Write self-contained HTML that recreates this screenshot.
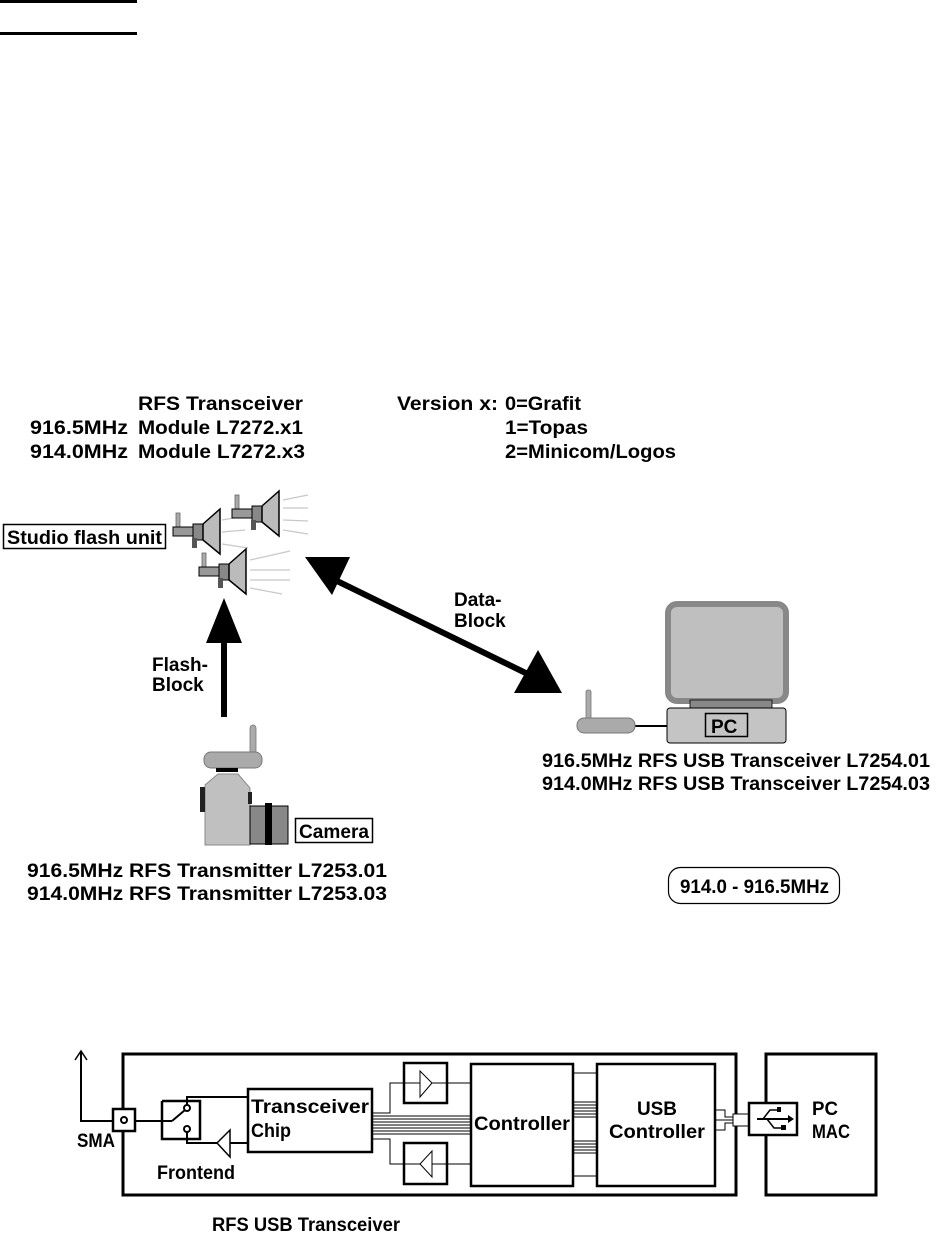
<!DOCTYPE html>
<html><head><meta charset="utf-8"><style>
html,body{margin:0;padding:0;background:#fff;}
svg{display:block;}
text{font-family:"Liberation Sans",sans-serif;font-weight:bold;font-size:19px;fill:#000;}
</style></head><body>
<svg width="950" height="1234" viewBox="0 0 950 1234" xmlns="http://www.w3.org/2000/svg">
<rect x="0" y="0" width="137" height="3" fill="#000"/>
<rect x="0" y="32" width="137" height="3" fill="#000"/>

<text x="138" y="410" textLength="165" lengthAdjust="spacingAndGlyphs">RFS Transceiver</text>
<text x="30" y="434" textLength="98" lengthAdjust="spacingAndGlyphs">916.5MHz</text>
<text x="138" y="434" textLength="165" lengthAdjust="spacingAndGlyphs">Module L7272.x1</text>
<text x="30" y="458" textLength="98" lengthAdjust="spacingAndGlyphs">914.0MHz</text>
<text x="138" y="458" textLength="167" lengthAdjust="spacingAndGlyphs">Module L7272.x3</text>
<text x="397" y="410" textLength="101" lengthAdjust="spacingAndGlyphs">Version x:</text>
<text x="505" y="410" textLength="76" lengthAdjust="spacingAndGlyphs">0=Grafit</text>
<text x="505" y="434" textLength="83" lengthAdjust="spacingAndGlyphs">1=Topas</text>
<text x="505" y="458" textLength="171" lengthAdjust="spacingAndGlyphs">2=Minicom/Logos</text>

<rect x="3.5" y="524.5" width="162" height="24" fill="#fff" stroke="#000" stroke-width="1.5"/>
<text x="7" y="544" textLength="155" lengthAdjust="spacingAndGlyphs">Studio flash unit</text>

<g stroke="#c8c8c8" stroke-width="1.2">
<line x1="283" y1="500" x2="308" y2="495"/><line x1="283" y1="508" x2="308" y2="508"/><line x1="283" y1="520" x2="308" y2="521"/><line x1="283" y1="530" x2="308" y2="534"/>
<line x1="222" y1="520" x2="245" y2="516"/><line x1="222" y1="532" x2="245" y2="530"/><line x1="222" y1="544" x2="248" y2="548"/>
<line x1="250" y1="560" x2="290" y2="551"/><line x1="250" y1="570" x2="290" y2="570"/><line x1="250" y1="580" x2="290" y2="580"/><line x1="250" y1="588" x2="282" y2="594"/>
</g>
<g id="fu">
<rect x="176" y="513" width="4" height="20" fill="#aaa" stroke="#666" stroke-width="0.8"/>
<rect x="173" y="527" width="25" height="9" fill="#999" stroke="#000" stroke-width="1"/>
<rect x="193" y="524" width="10" height="16" fill="#888" stroke="#000" stroke-width="1"/>
<rect x="192" y="538" width="5" height="10" fill="#555"/>
<polygon points="203,524 220,509 220,554 203,540" fill="#bbb" stroke="#000" stroke-width="1.5"/>
</g>
<use href="#fu" transform="translate(59,-18)"/>
<use href="#fu" transform="translate(26,40)"/>

<rect x="221" y="640" width="6" height="77" fill="#000"/>
<polygon points="224,598 206,643 242,643" fill="#000"/>
<text x="152" y="671">Flash-</text>
<text x="152" y="691">Block</text>

<line x1="335" y1="580" x2="540" y2="680" stroke="#000" stroke-width="6"/>
<polygon points="305,557 350,557 332,595" fill="#000"/>
<polygon points="538,650 514,693 562,693" fill="#000"/>
<text x="454" y="606">Data-</text>
<text x="454" y="627">Block</text>

<rect x="668" y="604" width="118" height="97" rx="9" fill="#bfbfbf" stroke="#888" stroke-width="6"/>
<rect x="690" y="700" width="82" height="9" fill="#888" stroke="#000" stroke-width="0.8"/>
<rect x="667" y="708" width="119" height="35" rx="3" fill="#c4c4c4" stroke="#000" stroke-width="1"/>
<rect x="705.5" y="713.5" width="42" height="23" fill="none" stroke="#000" stroke-width="1.5"/>
<text x="711" y="733">PC</text>
<line x1="630" y1="726" x2="667" y2="726" stroke="#000" stroke-width="2"/>
<rect x="586" y="690" width="5" height="32" rx="2" fill="#aaa" stroke="#777" stroke-width="0.8"/>
<rect x="577" y="718" width="58" height="15" rx="7" fill="#aaa" stroke="#777" stroke-width="1"/>
<text x="542" y="767" textLength="388" lengthAdjust="spacingAndGlyphs">916.5MHz RFS USB Transceiver L7254.01</text>
<text x="542" y="790" textLength="388" lengthAdjust="spacingAndGlyphs">914.0MHz RFS USB Transceiver L7254.03</text>

<rect x="250" y="725" width="6" height="30" rx="3" fill="#aaa" stroke="#777" stroke-width="0.8"/>
<rect x="204" y="752" width="58" height="16" rx="7" fill="#aaa" stroke="#777" stroke-width="1"/>
<rect x="216" y="768" width="22" height="4" fill="#000"/>
<path d="M205,785 L218,774 L238,774 L250,788 L250,845 L205,845 Z" fill="#c0c0c0" stroke="#888" stroke-width="1"/>
<rect x="200" y="787" width="5" height="25" fill="#222"/>
<rect x="248" y="792" width="4" height="12" fill="#222"/>
<rect x="250" y="806" width="38" height="38" fill="#888" stroke="#000" stroke-width="1"/>
<rect x="265" y="803" width="7" height="42" fill="#000"/>
<rect x="295.5" y="818.5" width="77" height="24" fill="#fff" stroke="#000" stroke-width="1.5"/>
<text x="299" y="838" textLength="70" lengthAdjust="spacingAndGlyphs">Camera</text>
<text x="27" y="877" textLength="360" lengthAdjust="spacingAndGlyphs">916.5MHz  RFS Transmitter L7253.01</text>
<text x="27" y="900" textLength="360" lengthAdjust="spacingAndGlyphs">914.0MHz  RFS Transmitter L7253.03</text>

<rect x="668.5" y="867.5" width="171" height="36" rx="12" fill="#fff" stroke="#000" stroke-width="1.2"/>
<text x="680" y="893" textLength="149" lengthAdjust="spacingAndGlyphs">914.0 - 916.5MHz</text>

<g fill="none" stroke="#000">
<rect x="123" y="1054" width="613" height="141" stroke-width="3"/>
<rect x="766" y="1054" width="110" height="141" stroke-width="3"/>
<polyline points="113,1121 81,1121 81,1052" stroke-width="2"/>
<polyline points="75,1060 81,1051 87,1060" stroke-width="1.5"/>
<rect x="113" y="1109" width="22" height="22" stroke-width="2.5" fill="#fff"/>
<circle cx="124" cy="1120" r="3" stroke-width="2"/>
<line x1="135" y1="1121" x2="172" y2="1121" stroke-width="2"/>
<polyline points="162,1101 200,1101 200,1139 162,1139 162,1101" stroke-width="2.5"/>
<line x1="172" y1="1121" x2="185" y2="1110" stroke-width="2"/>
<circle cx="187" cy="1108" r="3" stroke-width="2"/>
<circle cx="187" cy="1129" r="3" stroke-width="2"/>
<polyline points="187,1105 187,1097 248,1097" stroke-width="2"/>
<polyline points="187,1132 187,1143 217,1143" stroke-width="2"/>
<polygon points="217,1143 230,1130 230,1157" stroke-width="1.5" fill="#fff"/>
<line x1="230" y1="1143" x2="248" y2="1143" stroke-width="2"/>
<rect x="248" y="1089" width="124" height="63" stroke-width="2.5"/>
<polyline points="372,1113 390,1113 390,1083 471,1083" stroke-width="1"/>
<polyline points="372,1139 390,1139 390,1164 471,1164" stroke-width="1"/>
<rect x="404" y="1063" width="43" height="40" stroke-width="2.5" fill="#fff"/>
<rect x="404" y="1143" width="43" height="41" stroke-width="2.5" fill="#fff"/>
<polygon points="420,1071 420,1097 432,1083" stroke-width="1"/>
<polygon points="432,1151 432,1177 420,1164" stroke-width="1"/>
<line x1="432" y1="1083" x2="471" y2="1083" stroke-width="1"/>
<line x1="404" y1="1083" x2="420" y2="1083" stroke-width="1"/>
<line x1="404" y1="1164" x2="420" y2="1164" stroke-width="1"/>
<line x1="432" y1="1164" x2="471" y2="1164" stroke-width="1"/>
<rect x="471" y="1064" width="102" height="122" stroke-width="2.5"/>
<rect x="597" y="1064" width="118" height="122" stroke-width="2.5"/>
<line x1="573" y1="1073" x2="597" y2="1073" stroke-width="1"/>
<line x1="573" y1="1176" x2="597" y2="1176" stroke-width="1"/>
<rect x="733" y="1114" width="16" height="12" stroke-width="1" fill="#fff"/>
<polyline points="715,1110 725,1110 725,1117 733,1117" stroke-width="1"/>
<polyline points="715,1130 725,1130 725,1123 733,1123" stroke-width="1"/>
<polyline points="715,1120 733,1120" stroke-width="1"/>
<line x1="749" y1="1120" x2="766" y2="1120" stroke-width="1"/>
<rect x="749" y="1103" width="48" height="32" stroke-width="2.5" fill="#fff"/>
<line x1="757" y1="1119" x2="789" y2="1119" stroke-width="2"/>
<polyline points="763,1119 770,1110 778,1110" stroke-width="1.5"/>
<polyline points="767,1119 774,1128 782,1128" stroke-width="1.5"/>
</g>
<g fill="#000">
<g stroke="#000" stroke-width="1">
<line x1="372" y1="1116" x2="471" y2="1116"/><line x1="372" y1="1119" x2="471" y2="1119"/><line x1="372" y1="1122" x2="471" y2="1122"/><line x1="372" y1="1125" x2="471" y2="1125"/><line x1="372" y1="1128" x2="471" y2="1128"/><line x1="372" y1="1131" x2="471" y2="1131"/><line x1="372" y1="1134" x2="471" y2="1134"/>
<line x1="573" y1="1102" x2="597" y2="1102"/><line x1="573" y1="1105" x2="597" y2="1105"/><line x1="573" y1="1108" x2="597" y2="1108"/><line x1="573" y1="1111" x2="597" y2="1111"/><line x1="573" y1="1114" x2="597" y2="1114"/><line x1="573" y1="1117" x2="597" y2="1117"/>
<line x1="573" y1="1141" x2="597" y2="1141"/><line x1="573" y1="1144" x2="597" y2="1144"/><line x1="573" y1="1147" x2="597" y2="1147"/><line x1="573" y1="1150" x2="597" y2="1150"/><line x1="573" y1="1153" x2="597" y2="1153"/>
</g>
<polygon points="788,1115 794,1119 788,1123"/>
<rect x="777" y="1107" width="4" height="5"/>
<rect x="781" y="1125" width="5" height="5"/>
</g>
<text x="77" y="1147" textLength="38" lengthAdjust="spacingAndGlyphs">SMA</text>
<text x="157" y="1179" textLength="78" lengthAdjust="spacingAndGlyphs">Frontend</text>
<text x="251" y="1113" textLength="118" lengthAdjust="spacingAndGlyphs">Transceiver</text>
<text x="251" y="1137" textLength="40" lengthAdjust="spacingAndGlyphs">Chip</text>
<text x="474" y="1130" textLength="96" lengthAdjust="spacingAndGlyphs">Controller</text>
<text x="637" y="1115" textLength="40" lengthAdjust="spacingAndGlyphs">USB</text>
<text x="609" y="1138" textLength="96" lengthAdjust="spacingAndGlyphs">Controller</text>
<text x="812" y="1115" textLength="26" lengthAdjust="spacingAndGlyphs">PC</text>
<text x="812" y="1138" textLength="38" lengthAdjust="spacingAndGlyphs">MAC</text>
<text x="212" y="1231" textLength="188" lengthAdjust="spacingAndGlyphs">RFS USB Transceiver</text>
</svg>
</body></html>
